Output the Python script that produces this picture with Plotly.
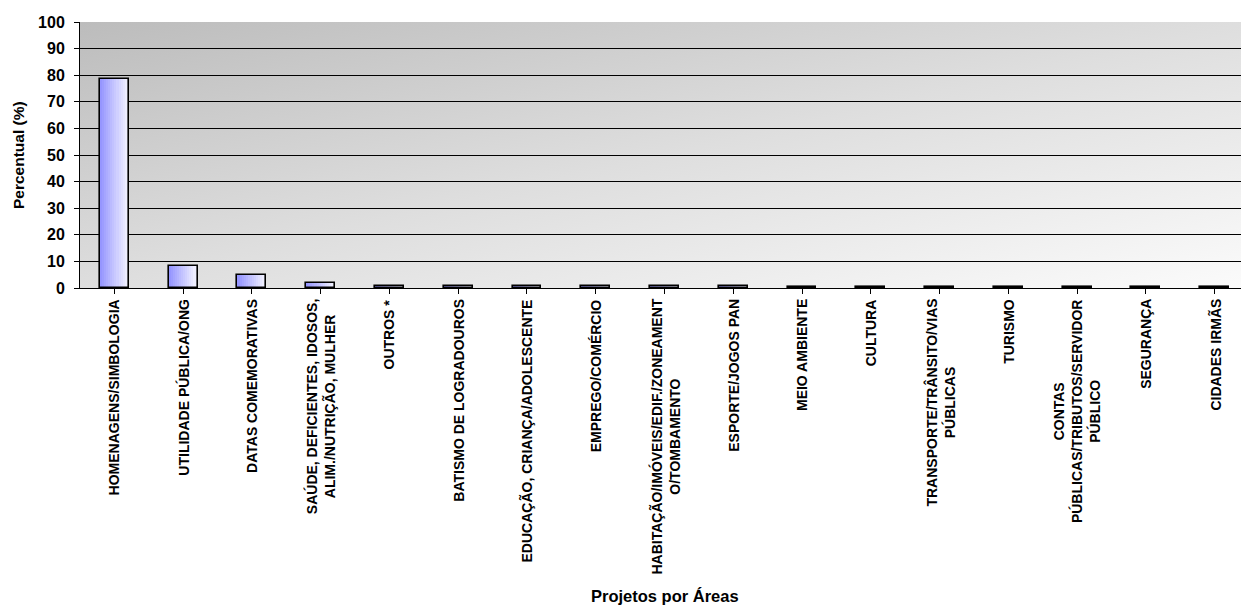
import base64
import plotly.graph_objects as go

categories = [
    "HOMENAGENS/SIMBOLOGIA",
    "UTILIDADE PÚBLICA/ONG",
    "DATAS COMEMORATIVAS",
    "SAÚDE, DEFICIENTES, IDOSOS,<br>ALIM./NUTRIÇÃO, MULHER",
    "OUTROS *",
    "BATISMO DE LOGRADOUROS",
    "EDUCAÇÃO, CRIANÇA/ADOLESCENTE",
    "EMPREGO/COMÉRCIO",
    "HABITAÇÃO/IMÓVEIS/EDIF./ZONEAMENT<br>O/TOMBAMENTO",
    "ESPORTE/JOGOS PAN",
    "MEIO AMBIENTE",
    "CULTURA",
    "TRANSPORTE/TRÂNSITO/VIAS<br>PÚBLICAS",
    "TURISMO",
    "CONTAS<br>PÚBLICAS/TRIBUTOS/SERVIDOR<br>PÚBLICO",
    "SEGURANÇA",
    "CIDADES IRMÃS",
]
values = [78.7, 8.3, 4.9, 1.8, 0.9, 0.8, 0.8, 0.8, 0.7, 0.7, 0.5, 0.5, 0.4, 0.4, 0.3, 0.2, 0.2]

y_ticks = list(range(0, 101, 10))

FONT = "Liberation Sans, Arial, sans-serif"
BAR_W = 0.42
N_SLICES = 14

x_idx = list(range(len(categories)))
fig = go.Figure()

# gradient fill: left (blue-lavender) to right (near white)
c0 = (150, 150, 255)
c1 = (245, 245, 255)
for i in range(N_SLICES):
    t = i / (N_SLICES - 1)
    col = tuple(round(c0[k] + (c1[k] - c0[k]) * t) for k in range(3))
    fig.add_trace(go.Bar(
        x=x_idx, y=values,
        width=BAR_W / N_SLICES,
        offset=-BAR_W / 2 + i * BAR_W / N_SLICES,
        marker=dict(color="rgb(%d,%d,%d)" % col, line=dict(width=0)),
        showlegend=False, hoverinfo="skip",
    ))
# outline
fig.add_trace(go.Bar(
    x=x_idx, y=values, width=BAR_W, offset=-BAR_W / 2,
    marker=dict(color="rgba(0,0,0,0)", line=dict(color="black", width=1.6)),
    showlegend=False,
))

svg = (
    '<svg xmlns="http://www.w3.org/2000/svg" width="100" height="100" preserveAspectRatio="none">'
    '<defs><linearGradient id="g" x1="0" y1="0" x2="1" y2="1">'
    '<stop offset="0" stop-color="#BCBCBC"/>'
    '<stop offset="0.5" stop-color="#DEDEDE"/>'
    '<stop offset="1" stop-color="#FBFBFB"/>'
    '</linearGradient></defs>'
    '<rect width="100" height="100" fill="url(#g)"/></svg>'
)
src = "data:image/svg+xml;base64," + base64.b64encode(svg.encode()).decode()

annotations = []
for i, lab in enumerate(categories):
    annotations.append(dict(
        x=i, y=0, xref="x", yref="paper", yshift=-9,
        text=lab, textangle=-90, showarrow=False,
        xanchor="center", yanchor="top", align="center",
        font=dict(family=FONT, size=14, color="black", weight="bold"),
    ))
# axis titles
annotations.append(dict(
    x=0.5, y=0, xref="paper", yref="paper", yshift=-308,
    text="Projetos por Áreas", showarrow=False,
    xanchor="center", yanchor="middle",
    font=dict(family=FONT, size=16.5, color="black", weight="bold"),
))
annotations.append(dict(
    x=0, y=0.5, xref="paper", yref="paper", xshift=-62,
    text="Percentual (%)", textangle=-90, showarrow=False,
    xanchor="center", yanchor="middle",
    font=dict(family=FONT, size=15.5, color="black", weight="bold"),
))

# page body has an 8px default margin: size the figure to fit the 1249x605 window
fig.update_layout(
    width=1241, height=597,
    margin=dict(l=72, r=0, t=14, b=317),
    paper_bgcolor="white",
    plot_bgcolor="rgba(0,0,0,0)",
    barmode="overlay",
    bargap=0,
    images=[dict(source=src, xref="paper", yref="paper", x=0, y=1,
                 sizex=1, sizey=1, sizing="stretch", layer="below",
                 xanchor="left", yanchor="top")],
    annotations=annotations,
    font=dict(family=FONT, color="black"),
    xaxis=dict(
        range=[-0.5, len(categories) - 0.5],
        tickmode="array", tickvals=x_idx, ticktext=[""] * len(categories),
        tickson="boundaries", ticks="outside", ticklen=5, tickcolor="black",
        showline=True, linecolor="black", linewidth=1,
        showgrid=False, zeroline=False, fixedrange=True,
    ),
    yaxis=dict(
        range=[0, 100], tickvals=y_ticks,
        ticks="outside", ticklen=5, tickcolor="black",
        showline=True, linecolor="black", linewidth=1,
        showgrid=True, gridcolor="black", gridwidth=1,
        zeroline=False, ticklabelstandoff=6,
        tickfont=dict(family=FONT, size=16, weight="bold"),
    ),
)

fig.write_html("out.html")
